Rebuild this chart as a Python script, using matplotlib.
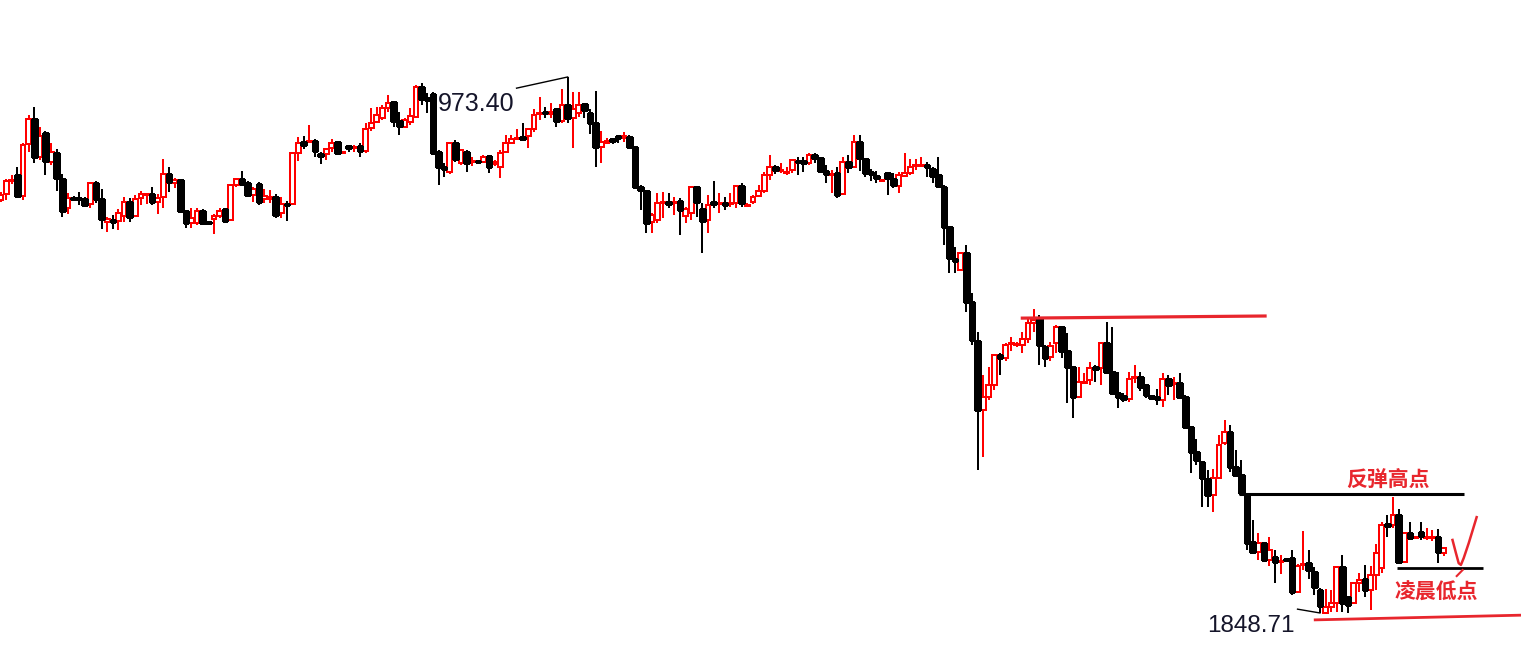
import matplotlib
matplotlib.use("Agg")
import matplotlib.pyplot as plt
import numpy as np

# ---- OHLC data (price), one candle per bar ----
opens = [
    1944.8, 1946.2, 1949.2, 1950.6, 1945.7, 1957.8, 1963.6, 1954.8, 1960.4, 1953.6,
    1955.7, 1949.7, 1943.0, 1945.3, 1945.3, 1945.0, 1943.9, 1948.7, 1945.0, 1939.6,
    1940.1, 1939.9, 1941.0, 1944.3, 1941.0, 1945.3, 1945.9, 1946.2, 1944.3, 1945.5,
    1950.8, 1948.7, 1949.4, 1942.3, 1939.4, 1939.4, 1942.3, 1939.6, 1940.4, 1941.0,
    1942.7, 1940.1, 1948.3, 1949.7, 1948.7, 1945.9, 1948.5, 1945.0, 1945.0, 1945.5,
    1941.8, 1943.9, 1943.9, 1955.7, 1958.2, 1958.2, 1958.5, 1955.5, 1955.5, 1956.9,
    1958.2, 1955.7, 1957.3, 1956.9, 1957.3, 1956.2, 1961.5, 1962.9, 1963.8, 1966.2,
    1967.5, 1963.1, 1961.8, 1962.9, 1964.1, 1971.1, 1968.5, 1969.4, 1955.9, 1952.5,
    1951.3, 1958.0, 1953.4, 1955.9, 1953.6, 1953.9, 1953.6, 1955.0, 1953.2, 1952.5,
    1955.9, 1958.0, 1958.9, 1959.4, 1959.7, 1961.3, 1964.8, 1965.2, 1964.8, 1965.9,
    1963.1, 1966.9, 1963.8, 1965.0, 1967.1, 1965.0, 1962.7, 1957.1, 1958.0, 1958.9,
    1959.7, 1959.2, 1959.4, 1957.1, 1947.8, 1946.9, 1939.6, 1940.1, 1944.1, 1944.3,
    1944.1, 1944.6, 1941.0, 1941.8, 1947.8, 1942.7, 1940.1, 1944.3, 1943.9, 1944.1,
    1943.9, 1944.1, 1948.0, 1943.4, 1944.3, 1945.7, 1946.9, 1950.6, 1952.5, 1951.5,
    1951.1, 1951.8, 1953.9, 1953.9, 1953.4, 1955.2, 1954.5, 1951.5, 1950.6, 1951.1,
    1946.2, 1953.6, 1952.5, 1958.2, 1954.3, 1951.3, 1950.4, 1949.2, 1951.1, 1949.7,
    1948.0, 1950.4, 1951.1, 1952.7, 1952.7, 1952.9, 1952.0, 1950.6, 1947.8, 1938.5,
    1931.1, 1928.5, 1932.5, 1921.1, 1912.0, 1895.9, 1898.9, 1901.7, 1908.7, 1908.0,
    1911.3, 1911.0, 1911.0, 1912.4, 1916.2, 1917.1, 1910.6, 1908.2, 1911.5, 1915.3,
    1909.7, 1905.9, 1898.9, 1902.2, 1902.9, 1905.9, 1905.7, 1911.5, 1904.8, 1899.9,
    1899.2, 1898.5, 1903.4, 1903.6, 1901.7, 1899.2, 1898.9, 1898.3, 1903.1, 1901.9,
    1902.2, 1898.9, 1891.9, 1886.2, 1883.8, 1879.9, 1876.1, 1880.1, 1888.3, 1890.8,
    1882.7, 1880.8, 1876.1, 1865.2, 1862.9, 1865.0, 1861.0, 1861.7, 1860.6, 1861.3,
    1861.5, 1853.6, 1859.9, 1860.3, 1858.2, 1854.1, 1848.8, 1850.1, 1851.0, 1859.4,
    1852.4, 1851.0, 1855.7, 1856.6, 1854.1, 1857.5, 1859.2, 1869.4, 1869.2, 1871.5,
    1860.6, 1867.3, 1866.1, 1867.5, 1866.1, 1866.1, 1866.4, 1862.7,
]
highs = [
    1946.6, 1949.7, 1950.6, 1952.5, 1958.0, 1964.5, 1966.4, 1961.8, 1960.9, 1958.0,
    1956.6, 1950.8, 1946.4, 1945.7, 1946.6, 1945.5, 1948.7, 1949.2, 1947.3, 1940.8,
    1941.3, 1942.7, 1945.5, 1945.3, 1945.9, 1946.9, 1946.4, 1947.8, 1946.2, 1954.3,
    1952.5, 1949.9, 1949.7, 1942.3, 1943.0, 1943.0, 1942.7, 1939.6, 1941.5, 1943.0,
    1943.0, 1948.3, 1949.9, 1951.5, 1949.2, 1947.8, 1949.0, 1947.3, 1947.1, 1946.2,
    1945.5, 1944.6, 1955.7, 1959.4, 1959.7, 1962.2, 1958.9, 1955.9, 1956.6, 1958.9,
    1958.5, 1956.2, 1957.5, 1957.5, 1958.0, 1962.7, 1966.2, 1966.4, 1966.9, 1969.2,
    1967.8, 1965.2, 1963.8, 1966.2, 1971.5, 1972.0, 1969.7, 1969.9, 1956.4, 1953.4,
    1958.0, 1958.7, 1956.6, 1956.4, 1954.8, 1954.1, 1955.2, 1955.2, 1954.1, 1956.4,
    1959.9, 1959.9, 1961.3, 1962.7, 1961.5, 1965.9, 1968.7, 1966.4, 1967.3, 1966.2,
    1970.6, 1973.4, 1969.9, 1969.9, 1967.3, 1965.9, 1970.1, 1960.8, 1959.2, 1959.2,
    1959.9, 1960.6, 1959.9, 1957.1, 1948.3, 1947.1, 1941.8, 1946.4, 1946.6, 1946.4,
    1945.5, 1945.3, 1943.2, 1948.0, 1948.0, 1944.1, 1945.9, 1949.2, 1946.4, 1945.5,
    1946.4, 1948.3, 1948.7, 1944.1, 1945.9, 1948.3, 1951.3, 1955.2, 1952.9, 1953.4,
    1952.5, 1954.3, 1954.8, 1954.8, 1955.7, 1955.7, 1954.8, 1952.9, 1951.8, 1952.5,
    1954.8, 1955.2, 1959.9, 1959.9, 1954.3, 1952.0, 1951.5, 1949.7, 1951.3, 1951.1,
    1951.3, 1955.7, 1954.3, 1954.3, 1954.8, 1953.6, 1952.5, 1954.8, 1948.3, 1938.7,
    1933.8, 1932.5, 1934.3, 1923.1, 1914.1, 1904.1, 1905.9, 1908.7, 1909.2, 1911.5,
    1912.9, 1911.7, 1914.1, 1917.3, 1919.4, 1918.0, 1911.0, 1911.7, 1915.7, 1915.5,
    1913.8, 1906.2, 1905.9, 1904.5, 1907.1, 1906.4, 1911.7, 1916.4, 1915.3, 1904.8,
    1899.9, 1904.8, 1906.4, 1904.8, 1901.7, 1899.4, 1900.8, 1904.5, 1904.1, 1903.6,
    1904.5, 1899.4, 1892.2, 1889.2, 1884.1, 1882.0, 1882.2, 1890.1, 1893.6, 1892.4,
    1886.6, 1884.3, 1876.4, 1870.3, 1867.3, 1865.2, 1866.4, 1863.4, 1862.2, 1861.5,
    1863.4, 1860.1, 1867.8, 1863.4, 1859.4, 1854.5, 1854.3, 1854.1, 1859.6, 1862.2,
    1852.7, 1855.9, 1858.0, 1859.9, 1859.6, 1864.7, 1869.9, 1871.5, 1875.7, 1872.9,
    1867.5, 1869.9, 1866.6, 1869.9, 1868.5, 1868.0, 1868.3, 1864.1,
]
lows = [
    1944.3, 1944.8, 1948.5, 1945.5, 1944.8, 1955.9, 1953.4, 1954.1, 1950.6, 1952.9,
    1946.9, 1940.8, 1941.5, 1944.6, 1943.6, 1943.4, 1943.0, 1944.1, 1938.0, 1937.3,
    1938.0, 1937.8, 1939.6, 1939.6, 1940.8, 1943.6, 1943.9, 1943.6, 1941.5, 1943.0,
    1946.6, 1947.6, 1942.3, 1938.3, 1938.3, 1938.9, 1939.2, 1939.2, 1936.9, 1940.6,
    1939.6, 1940.1, 1947.8, 1948.5, 1945.5, 1944.3, 1943.6, 1944.1, 1944.1, 1940.6,
    1940.6, 1939.9, 1943.6, 1953.9, 1956.6, 1958.2, 1954.8, 1953.2, 1954.1, 1955.9,
    1955.2, 1955.7, 1955.9, 1955.9, 1954.8, 1955.7, 1960.8, 1962.7, 1963.4, 1965.2,
    1961.8, 1959.9, 1961.5, 1962.2, 1963.8, 1966.9, 1965.0, 1955.2, 1948.3, 1950.1,
    1950.8, 1953.6, 1952.9, 1951.3, 1952.7, 1953.4, 1953.4, 1951.1, 1952.7, 1949.9,
    1955.7, 1957.8, 1958.7, 1958.7, 1956.9, 1960.6, 1963.4, 1963.8, 1963.8, 1961.8,
    1962.7, 1962.7, 1956.9, 1964.1, 1963.8, 1960.1, 1952.5, 1953.4, 1957.8, 1957.8,
    1958.0, 1958.2, 1957.1, 1947.8, 1942.5, 1937.1, 1937.1, 1939.4, 1940.6, 1943.0,
    1941.3, 1936.7, 1939.4, 1940.1, 1940.8, 1932.5, 1937.1, 1943.0, 1941.8, 1942.5,
    1943.2, 1943.0, 1943.2, 1943.2, 1943.9, 1945.5, 1946.4, 1949.4, 1950.8, 1951.1,
    1950.6, 1951.1, 1950.6, 1951.3, 1952.9, 1953.4, 1951.1, 1948.7, 1946.4, 1945.3,
    1946.2, 1951.1, 1952.5, 1951.5, 1950.1, 1949.2, 1948.7, 1949.2, 1945.9, 1947.6,
    1946.4, 1950.1, 1950.6, 1951.8, 1952.5, 1950.1, 1948.7, 1947.6, 1934.3, 1927.8,
    1927.8, 1928.5, 1918.7, 1911.0, 1882.0, 1885.0, 1898.3, 1900.6, 1904.1, 1907.4,
    1909.7, 1910.6, 1909.2, 1911.5, 1914.1, 1906.4, 1905.9, 1907.4, 1909.2, 1908.0,
    1897.6, 1894.1, 1898.7, 1901.9, 1901.7, 1902.4, 1901.7, 1904.8, 1899.9, 1896.4,
    1897.8, 1897.8, 1902.2, 1900.4, 1898.7, 1898.3, 1897.1, 1896.7, 1899.4, 1898.3,
    1898.9, 1891.7, 1881.3, 1883.1, 1873.4, 1873.4, 1872.2, 1880.1, 1887.8, 1881.5,
    1880.8, 1876.6, 1863.4, 1862.9, 1861.0, 1861.0, 1859.6, 1855.7, 1857.8, 1860.8,
    1852.9, 1853.4, 1858.7, 1856.6, 1852.9, 1848.71, 1848.8, 1848.9, 1849.0, 1849.0,
    1848.8, 1850.8, 1853.6, 1852.4, 1849.4, 1854.1, 1858.0, 1866.4, 1868.5, 1860.3,
    1860.3, 1865.9, 1866.1, 1865.7, 1865.7, 1865.5, 1860.3, 1862.0,
]
closes = [
    1945.9, 1949.2, 1949.4, 1945.7, 1957.5, 1963.6, 1954.8, 1959.7, 1953.9, 1955.9,
    1949.9, 1942.3, 1945.3, 1945.0, 1945.0, 1943.6, 1948.7, 1945.0, 1940.4, 1940.4,
    1939.6, 1941.8, 1944.3, 1940.8, 1945.0, 1946.2, 1946.2, 1944.3, 1945.3, 1950.8,
    1949.0, 1949.4, 1942.3, 1939.4, 1940.6, 1942.3, 1939.4, 1939.4, 1941.0, 1942.3,
    1939.9, 1948.3, 1949.7, 1948.5, 1945.9, 1947.3, 1944.3, 1945.7, 1945.5, 1941.3,
    1943.9, 1943.6, 1955.7, 1958.0, 1957.5, 1958.5, 1956.2, 1955.0, 1956.6, 1958.0,
    1955.7, 1955.9, 1956.9, 1957.1, 1956.2, 1961.3, 1962.7, 1964.5, 1966.2, 1967.3,
    1963.1, 1962.0, 1963.4, 1964.3, 1971.1, 1968.3, 1968.0, 1955.7, 1952.5, 1952.0,
    1958.0, 1954.3, 1956.4, 1953.4, 1953.9, 1953.6, 1954.8, 1952.5, 1953.6, 1955.7,
    1958.0, 1958.9, 1959.2, 1958.9, 1961.3, 1964.5, 1965.0, 1965.0, 1965.2, 1963.1,
    1966.9, 1963.8, 1965.9, 1966.9, 1965.7, 1962.7, 1957.1, 1958.2, 1958.5, 1958.5,
    1959.2, 1959.7, 1957.1, 1947.8, 1947.1, 1939.4, 1941.3, 1944.1, 1944.3, 1943.9,
    1944.3, 1942.5, 1942.7, 1947.8, 1944.3, 1939.9, 1943.6, 1943.9, 1944.1, 1943.6,
    1944.1, 1948.0, 1944.1, 1943.6, 1945.5, 1946.9, 1950.6, 1952.5, 1951.8, 1951.8,
    1951.3, 1954.1, 1953.6, 1953.4, 1955.2, 1954.5, 1951.5, 1950.8, 1950.8, 1945.9,
    1953.6, 1952.5, 1958.2, 1954.5, 1951.1, 1950.8, 1949.9, 1949.4, 1949.9, 1948.3,
    1950.6, 1951.1, 1952.5, 1952.9, 1952.9, 1952.5, 1950.4, 1948.0, 1938.5, 1931.3,
    1930.6, 1932.5, 1921.1, 1912.2, 1895.9, 1898.9, 1901.7, 1908.7, 1908.0, 1911.0,
    1911.5, 1911.3, 1912.4, 1916.2, 1916.9, 1911.0, 1908.0, 1910.8, 1915.3, 1909.7,
    1905.9, 1898.9, 1902.4, 1902.4, 1905.7, 1905.4, 1911.5, 1904.8, 1899.9, 1898.9,
    1898.5, 1903.1, 1903.6, 1901.3, 1899.4, 1898.7, 1898.5, 1903.1, 1901.7, 1902.2,
    1898.9, 1891.9, 1886.2, 1884.3, 1880.1, 1876.1, 1880.1, 1887.8, 1890.8, 1882.7,
    1880.8, 1876.6, 1865.0, 1862.9, 1865.0, 1861.0, 1863.4, 1860.6, 1860.8, 1861.0,
    1853.6, 1859.6, 1860.1, 1858.7, 1854.8, 1850.3, 1850.1, 1851.0, 1859.4, 1851.0,
    1850.6, 1855.7, 1856.4, 1854.1, 1857.5, 1862.7, 1869.2, 1869.0, 1871.5, 1860.6,
    1867.3, 1866.1, 1866.4, 1866.6, 1866.4, 1866.4, 1862.9, 1863.8,
]

high_label = "973.40"
low_label = "1848.71"
rebound_label = "反弹高点"
dawn_label = "凌晨低点"

# key levels (price) of the drawn annotations
resistance_level = (1917.3, 1917.8)
rebound_high = 1876.4
dawn_low = 1859.2
low_line = (1847.1, 1848.2)

n = min(len(opens), len(highs), len(lows), len(closes))
o = np.array(opens[:n]); h = np.array(highs[:n]); l = np.array(lows[:n]); c = np.array(closes[:n])
x = np.arange(n)
up = c >= o

RED = "#ff0000"
ANN_RED = "#e8262d"

fig = plt.figure(figsize=(15.21, 6.53), dpi=100)
ax = fig.add_axes([0, 0, 1, 1])
ax.set_axis_off()
ax.set_xlim(-0.1, 270.8)
ax.set_ylim(1839.40, 1991.31)

# wicks
ax.vlines(x[up], l[up], h[up], color=RED, lw=1.2, zorder=2, antialiased=False)
ax.vlines(x[~up], l[~up], h[~up], color="black", lw=1.2, zorder=2, antialiased=False)
# bodies
bot = np.minimum(o, c)
hgt = np.maximum(np.abs(c - o), 0.05)
ax.bar(x[up], hgt[up], bottom=bot[up], width=0.86, facecolor="white",
       edgecolor=RED, linewidth=1.1, zorder=3, antialiased=False)
ax.bar(x[~up], hgt[~up], bottom=bot[~up], width=0.82, facecolor="black",
       edgecolor="black", linewidth=0.8, zorder=3, antialiased=False)

# high / low markers
ax.plot([91.9, 101.0], [1970.8, 1973.4], color="black", lw=1.0, zorder=4)
ax.text(77.9, 1967.1, high_label, ha="left", va="center", fontsize=18,
        family="Liberation Sans", color="#15152a", zorder=5)
ax.plot([231.0, 235.0], [1849.6, 1848.71], color="black", lw=1.0, zorder=4)
ax.text(222.7, 1845.7, low_label, ha="center", va="center", fontsize=17.5,
        family="Liberation Sans", color="#15152a", zorder=5)

# resistance red line
ax.plot([181.7, 225.5], list(resistance_level), color=ANN_RED, lw=2.3,
        solid_capstyle="butt", zorder=4)
# bottom red line
ax.plot([233.9, 270.8], list(low_line), color=ANN_RED, lw=2.0,
        solid_capstyle="butt", zorder=4)
# rebound high black line + label
ax.plot([220.5, 260.6], [rebound_high, rebound_high], color="black", lw=2.2,
        solid_capstyle="butt", zorder=4)
ax.text(247.1, 1879.9, rebound_label, ha="center", va="center", fontsize=15,
        fontweight="bold", family=["Noto Sans CJK SC", "DejaVu Sans"],
        color=ANN_RED, zorder=5)
# dawn low black line + label
ax.plot([248.7, 264.0], [dawn_low, dawn_low], color="black", lw=2.0,
        solid_capstyle="butt", zorder=4)
ax.text(255.8, 1853.6, dawn_label, ha="center", va="center", fontsize=15,
        fontweight="bold", family=["Noto Sans CJK SC", "DejaVu Sans"],
        color=ANN_RED, zorder=5)
# check mark
ax.plot([258.6, 259.2, 259.7, 260.1, 260.6, 261.5, 262.9],
        [1865.7, 1862.7, 1860.3, 1859.9, 1861.5, 1865.0, 1871.0],
        color=ANN_RED, lw=1.8, zorder=5, solid_joinstyle="round")
ax.plot([259.35, 260.4], [1857.3, 1858.7], color=ANN_RED, lw=1.5, zorder=5)

fig.savefig("out.png", dpi=100, facecolor="white")
